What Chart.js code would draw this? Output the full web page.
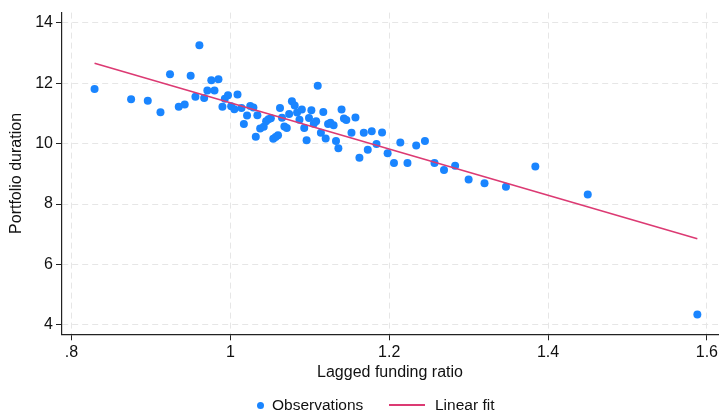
<!DOCTYPE html>
<html>
<head>
<meta charset="utf-8">
<script src="https://cdn.jsdelivr.net/npm/chart.js@4.4.1/dist/chart.umd.min.js"></script>
<style>
  html, body { margin: 0; padding: 0; background: #fff; }
  #wrap { position: relative; width: 722px; height: 413px; font-family: "Liberation Sans", Arial, Helvetica, sans-serif; }
  #c { position: absolute; left: 0; top: 0; }
  .lg { position: absolute; font-size: 15.5px; line-height: 18px; color: #111; white-space: nowrap; }
</style>
</head>
<body>
<div id="wrap">
  <canvas id="c" width="722" height="413"></canvas>
  <div class="lg" id="lgDot" style="left:256.5px;top:401.5px;width:7px;height:7px;border-radius:50%;background:#1a85ff;"></div>
  <div class="lg" id="lgObs" style="left:272px;top:396px;">Observations</div>
  <div class="lg" id="lgLine" style="left:389px;top:404px;width:36px;height:2px;background:#dc3a73;"></div>
  <div class="lg" id="lgFit" style="left:435px;top:396px;">Linear fit</div>
</div>
<script>
// ---- data ----
const fundingRatio = [
  0.829, 0.875, 0.896, 0.912, 0.924, 0.935, 0.9425, 0.950, 0.956, 0.961,
  0.967, 0.971, 0.976, 0.980, 0.985, 0.990, 0.993, 0.997, 1.001, 1.005,
  1.009, 1.014, 1.017, 1.021, 1.025, 1.029, 1.032, 1.034, 1.0375, 1.042,
  1.045, 1.048, 1.051, 1.054, 1.057, 1.060, 1.0625, 1.065, 1.068, 1.071,
  1.074, 1.0775, 1.081, 1.084, 1.087, 1.090, 1.093, 1.096, 1.099, 1.102,
  1.105, 1.108, 1.110, 1.114, 1.117, 1.120, 1.123, 1.126, 1.130, 1.133,
  1.136, 1.140, 1.143, 1.146, 1.1525, 1.1575, 1.1625, 1.168, 1.173, 1.178,
  1.184, 1.191, 1.198, 1.206, 1.214, 1.223, 1.234, 1.245, 1.257, 1.269,
  1.283, 1.300, 1.320, 1.347, 1.384, 1.450, 1.588
];
const duration = [
  11.81, 11.47, 11.42, 11.04, 12.30, 11.22, 11.30, 12.25, 11.55, 13.26,
  11.51, 11.76, 12.10, 11.76, 12.13, 11.22, 11.49, 11.60, 11.24, 11.14,
  11.63, 11.18, 10.65, 10.93, 11.25, 11.20, 10.23, 10.94, 10.50, 10.56,
  10.74, 10.81, 10.84, 10.16, 10.22, 10.28, 11.18, 10.86, 10.57, 10.52,
  10.98, 11.40, 11.26, 11.03, 10.79, 11.13, 10.52, 10.11, 10.85, 11.11,
  10.66, 10.74, 11.92, 10.36, 11.05, 10.17, 10.65, 10.69, 10.61, 10.09,
  9.85, 11.13, 10.83, 10.78, 10.36, 10.87, 9.53, 10.36, 9.80, 10.41,
  9.99, 10.37, 9.68, 9.36, 10.04, 9.36, 9.94, 10.09, 9.36, 9.13,
  9.27, 8.81, 8.69, 8.57, 9.24, 8.32, 4.34
];
const fitX = [0.829, 1.588];
const fitY = [12.66, 6.85];
const xTickValues = [0.8, 1.0, 1.2, 1.4, 1.6];
const xTickLabels = [".8", "1", "1.2", "1.4", "1.6"];
const yTickValues = [4, 6, 8, 10, 12, 14];
const yTickLabels = ["4", "6", "8", "10", "12", "14"];

// ---- build ----
const scatterPts = fundingRatio.map((x, i) => ({ x: x, y: duration[i] }));
const fitPts = fitX.map((x, i) => ({ x: x, y: fitY[i] }));

const FONT = { family: '"Liberation Sans", Arial, Helvetica, sans-serif', size: 16 };
const gridCommon = {
  color: '#e6e6e6',
  lineWidth: 1,
  tickColor: '#222',
  tickLength: 6,
  tickWidth: 1,
  tickBorderDash: []
};

new Chart(document.getElementById('c'), {
  type: 'scatter',
  data: {
    datasets: [
      {
        label: 'Observations',
        data: scatterPts,
        backgroundColor: '#1a85ff',
        borderWidth: 0,
        pointRadius: 4,
        pointHoverRadius: 4,
        order: 2
      },
      {
        type: 'line',
        label: 'Linear fit',
        data: fitPts,
        borderColor: '#dc3a73',
        borderWidth: 1.6,
        pointRadius: 0,
        fill: false,
        tension: 0,
        order: 1
      }
    ]
  },
  options: {
    responsive: false,
    animation: false,
    devicePixelRatio: 1,
    layout: { padding: { top: 8, left: 0, right: 2, bottom: 28.7 } },
    plugins: {
      legend: { display: false },
      tooltip: { enabled: false }
    },
    scales: {
      x: {
        type: 'linear',
        min: 0.788,
        max: 1.614,
        afterFit: s => { s.height = 50; },
        afterBuildTicks: s => { s.ticks = xTickValues.map(v => ({ value: v })); },
        ticks: {
          color: '#111',
          font: FONT,
          padding: 3,
          maxRotation: 0,
          autoSkip: false,
          callback: (v) => {
            const i = xTickValues.findIndex(t => Math.abs(t - v) < 1e-9);
            return i >= 0 ? xTickLabels[i] : '';
          }
        },
        grid: gridCommon,
        border: { display: true, color: '#222', width: 1.2, dash: [6, 4] },
        title: {
          display: true,
          text: 'Lagged funding ratio',
          color: '#111',
          font: FONT,
          padding: { top: 0, bottom: 1.7 }
        }
      },
      y: {
        type: 'linear',
        min: 3.686,
        max: 14.34,
        afterFit: s => { s.width = 62; },
        afterBuildTicks: s => { s.ticks = yTickValues.map(v => ({ value: v })); },
        ticks: {
          color: '#111',
          font: FONT,
          padding: 3,
          autoSkip: false,
          callback: (v) => {
            const i = yTickValues.findIndex(t => Math.abs(t - v) < 1e-9);
            return i >= 0 ? yTickLabels[i] : '';
          }
        },
        grid: gridCommon,
        border: { display: true, color: '#222', width: 1.2, dash: [6, 4] },
        title: {
          display: true,
          text: 'Portfolio duration',
          color: '#111',
          font: FONT,
          padding: { top: 7.4, bottom: 0 }
        }
      }
    }
  }
});
</script>
</body>
</html>
